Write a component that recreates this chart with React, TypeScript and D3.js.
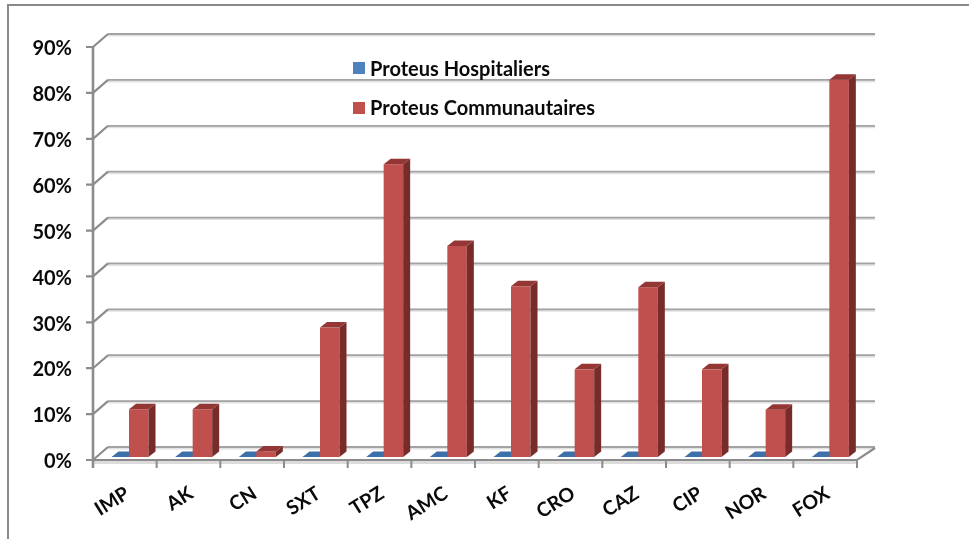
import React from "react";
import * as d3 from "d3";

const categories = ["IMP", "AK", "CN", "SXT", "TPZ", "AMC", "KF", "CRO", "CAZ", "CIP", "NOR", "FOX"];
const hospitaliers = [0, 0, 0, 0, 0, 0, 0, 0, 0, 0, 0, 0];
const communautaires = [10.4, 10.4, 1.2, 28.2, 63.8, 46, 37.2, 19.1, 37, 19.1, 10.3, 82.2];
const yTicks = [0, 10, 20, 30, 40, 50, 60, 70, 80, 90];
const seriesNames = ["Proteus Hospitaliers", "Proteus Communautaires"];

const W = 969, H = 539;
const FONT = "Lato, 'Open Sans', sans-serif";
const DX = 15, DY = -13; // wall depth
const BDX = 7, BDY = -5.5; // bar depth
const BASE = -3; // bar base offset above the front floor edge

const x = d3.scaleBand<string>().domain(categories).range([93, 857]);
const y = d3.scaleLinear().domain([0, 90]).range([460, 47]);
const GRID = "#a3a3a3", AXIS = "#8c8c8c";

function Bar({ x0, w, v, front, side, top }: { x0: number; w: number; v: number; front: string; side: string; top: string }) {
  const b = y(0) + BASE;
  const t = y(v) + BASE;
  const pts = (p: number[][]) => p.map((q) => q.join(",")).join(" ");
  return (
    <g>
      {v > 0 && <rect x={x0} y={t} width={w} height={b - t} fill={front} />}
      <polygon points={pts([[x0 + w, t], [x0 + w + BDX, t + BDY], [x0 + w + BDX, b + BDY], [x0 + w, b]])} fill={side} />
      <polygon points={pts([[x0, t], [x0 + w, t], [x0 + w + BDX, t + BDY], [x0 + BDX, t + BDY]])} fill={top} />
    </g>
  );
}

export default function App() {
  const [x0, x1] = x.range();
  return (
    <svg width={W} height={H} style={{ position: "absolute", left: 0, top: 0, background: "#fff" }} fontFamily={FONT}>
      <g style={{ filter: "blur(0.4px)" }}>
      <path d={`M8 539V5H${W}`} fill="none" stroke="#8a8a8a" strokeWidth={2} />
      {/* floor */}
      <polygon points={`${x0},${y(0)} ${x1},${y(0)} ${x1 + DX + 3},${y(0) + DY} ${x0 + DX},${y(0) + DY}`} fill="#fff" />
      <line x1={x0} x2={x1} y1={y(0) + 2.5} y2={y(0) + 2.5} stroke="#dcdcdc" strokeWidth={3} />
      {/* gridlines */}
      {yTicks.map((t) => (
        <g key={t}>
          <line x1={x0 + DX} x2={x1 + DX + 3} y1={y(t) + DY} y2={y(t) + DY} stroke="#e2e2e2" strokeWidth={3} transform="translate(0,1)" />
          <line x1={x0 + DX} x2={x1 + DX + 3} y1={y(t) + DY} y2={y(t) + DY} stroke={GRID} strokeWidth={1.8} />
          <path d={`M${x0 - 7} ${y(t)}H${x0}L${x0 + DX} ${y(t) + DY}`} fill="none" stroke={AXIS} strokeWidth={2.2} />
          <text x={72} y={y(t) + 1} dy="0.36em" textAnchor="end" fontSize={20} fontWeight={700} fill="#0a0a0a">{t}%</text>
        </g>
      ))}
      <line x1={x0} x2={x0} y1={y(90)} y2={y(0) + 8} stroke={AXIS} strokeWidth={2.6} />
      <path d={`M${x0} ${y(0)}H${x1}L${x1 + DX + 3} ${y(0) + DY + 1}`} fill="none" stroke={AXIS} strokeWidth={2.2} />
      {categories.map((c) => (
        <line key={c} x1={x(c)! + x.bandwidth()} x2={x(c)! + x.bandwidth()} y1={y(0)} y2={y(0) + 8} stroke={AXIS} strokeWidth={2} />
      ))}
      <line x1={x0} x2={x0} y1={y(0)} y2={y(0) + 8} stroke={AXIS} strokeWidth={2} />
      {/* bars */}
      {categories.map((c, i) => (
        <g key={c}>
          <Bar x0={x(c)! + 18.5} w={18} v={hospitaliers[i]} front="#4f81bd" side="#385d8a" top="#3d6fa8" />
          <Bar x0={x(c)! + 36} w={19.5} v={communautaires[i]} front="#c0504d" side="#772c2a" top="#943634" />
        </g>
      ))}
      {/* legend */}
      <rect x={353} y={62} width={12} height={12} fill="#4f81bd" />
      <rect x={353} y={102} width={12} height={12} fill="#c0504d" />
      <text x={370} y={75.5} fontSize={20} fontWeight={700} fill="#0a0a0a">{seriesNames[0]}</text>
      <text x={370} y={114.5} fontSize={20} fontWeight={700} fill="#0a0a0a">{seriesNames[1]}</text>
      {/* category labels */}
      {categories.map((c) => {
        const cx = x(c)! + x.bandwidth() / 2 + 6;
        return (
          <text key={c} transform={`translate(${cx},497) rotate(-32)`} textAnchor="end" fontSize={19.5} fontWeight={700} fill="#0a0a0a">{c}</text>
        );
      })}
      </g>
    </svg>
  );
}
